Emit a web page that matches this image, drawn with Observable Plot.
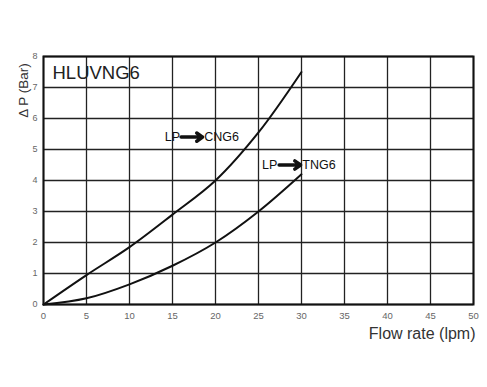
<!DOCTYPE html>
<html><head><meta charset="utf-8">
<script src="https://cdn.jsdelivr.net/npm/d3@7"></script>
<script src="https://cdn.jsdelivr.net/npm/@observablehq/plot@0.6"></script>
<style>body{margin:0;background:#fff;font-family:Arial,"Liberation Sans",sans-serif}</style>
</head><body><div id="chart"></div>
<script>
const flow = [0, 5, 10, 15, 20, 25, 30];
const cng6 = [0, 0.95, 1.85, 2.9, 4.0, 5.55, 7.5];
const tng6 = [0, 0.2, 0.65, 1.25, 2.0, 3.0, 4.2];
const xTicks = [0,5,10,15,20,25,30,35,40,45,50];
const yTicks = [0,1,2,3,4,5,6,7,8];
// label positions in data units
const labels = [
  {lp: 14.1, a1: 16.0, a2: 18.5, name: "CNG6", nx: 18.7, y: 5.4},
  {lp: 25.4, a1: 27.4, a2: 29.9, name: "TNG6", nx: 30.1, y: 4.5}
];
const series = [
  ...flow.map((x,i)=>({x, y:cng6[i], s:"CNG6"})),
  ...flow.map((x,i)=>({x, y:tng6[i], s:"TNG6"}))
];
const chart = Plot.plot({
  width: 487, height: 387,
  marginLeft: 43, marginRight: 14, marginTop: 56, marginBottom: 83,
  style: {fontFamily: "Arial, 'Liberation Sans', sans-serif", background: "#fff"},
  x: {domain: [0,50], ticks: xTicks, label: null},
  y: {domain: [0,8], ticks: yTicks, label: null},
  marks: [
    Plot.gridX(xTicks, {stroke: "#222", strokeOpacity: 1, strokeWidth: 1.3}),
    Plot.gridY(yTicks, {stroke: "#222", strokeOpacity: 1, strokeWidth: 1.3}),
    Plot.frame({stroke: "#111", strokeWidth: 2}),
    Plot.axisX({ticks: xTicks, tickSize: 0, tickPadding: 8, fontSize: 9.5, fill: "#666", label: null}),
    Plot.axisY({ticks: yTicks, tickSize: 0, tickPadding: 6, fontSize: 9, fill: "#666", label: null}),
    Plot.line(series, {x: "x", y: "y", z: "s", curve: "catmull-rom", stroke: "#111", strokeWidth: 2}),
    Plot.text(["HLUVNG6"], {frameAnchor: "top-left", dx: 9, dy: 9, fontSize: 18.5, fill: "#222", textAnchor: "start"}),
    Plot.text(labels, {x: "lp", y: "y", text: () => "LP", textAnchor: "start", fontSize: 12.5, fill: "#111"}),
    Plot.text(labels, {x: "nx", y: "y", text: "name", textAnchor: "start", fontSize: 12.5, fill: "#111"}),
    Plot.arrow(labels, {x1: "a1", x2: "a2", y1: "y", y2: "y", stroke: "#111", strokeWidth: 3.5, headLength: 8, headAngle: 70}),
    Plot.text(["Flow rate (lpm)"], {frameAnchor: "bottom-right", dy: 34, dx: 2, fontSize: 16, fill: "#333", textAnchor: "end"}),
    Plot.text(["Δ P (Bar)"], {frameAnchor: "top-left", dx: -25, dy: 34, rotate: -90, fontSize: 13.5, fill: "#333", textAnchor: "middle"})
  ]
});
document.getElementById("chart").appendChild(chart);
</script></body></html>
